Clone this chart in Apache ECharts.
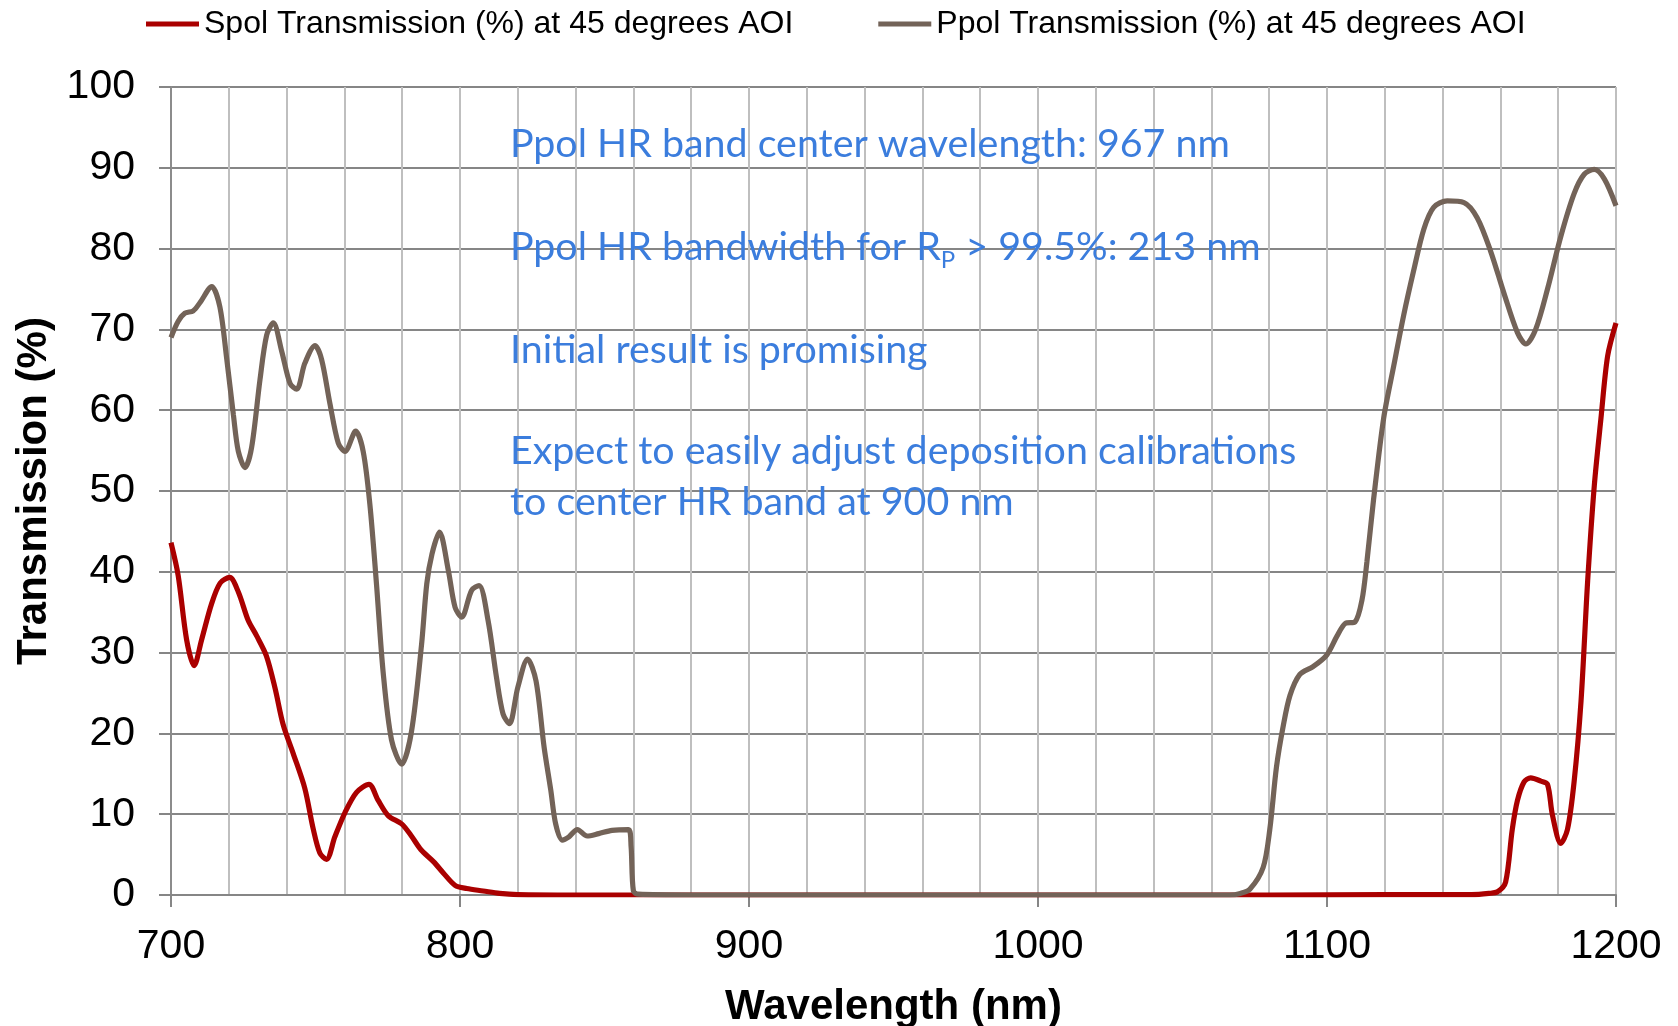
<!DOCTYPE html>
<html>
<head>
<meta charset="utf-8">
<script src="https://cdn.jsdelivr.net/npm/echarts@6/dist/echarts.min.js"></script>
<style>
html,body{margin:0;padding:0;background:#fff;}
#chart{width:1678px;height:1026px;}
</style>
</head>
<body>
<div id="chart"></div>
<script>
// ---- data ----
const seriesNames = ['Spol Transmission (%) at 45 degrees AOI', 'Ppol Transmission (%) at 45 degrees AOI'];

const spolWl = [700, 702.5, 705.4, 708, 710.6, 714, 717, 720.3, 723.3, 726.7, 729.6, 733, 736, 738.8, 742.3, 746.3, 749.2, 751.5, 753.8, 756.7, 760.2, 764.2, 768.5, 771.7, 775.2, 779.8, 783, 786.5, 790.9, 794.3, 798.3, 802.3, 808, 813.7, 820, 840, 880, 920, 960, 1000, 1040, 1080, 1120, 1150, 1156, 1159, 1161.8, 1164.1, 1165.9, 1168.2, 1170.5, 1174, 1176.3, 1178, 1180.9, 1183.2, 1185.5, 1187.9, 1190.2, 1192.5, 1194.8, 1197.1, 1200];
const spolT = [43.6, 39.5, 31.6, 28.4, 31.6, 36, 38.6, 39.3, 37.5, 34, 32.1, 29.6, 25.6, 21.1, 17.5, 13.2, 8.2, 5.2, 4.4, 7.2, 10.2, 12.7, 13.7, 11.7, 9.8, 8.8, 7.4, 5.6, 4.1, 2.7, 1.2, 0.8, 0.5, 0.2, 0.05, 0, 0, 0, 0, 0, 0, 0, 0.05, 0.05, 0.2, 0.4, 1.6, 8.1, 11.7, 14, 14.5, 14.1, 13.7, 9.9, 6.4, 8.1, 14, 24, 38.9, 50.7, 59, 66.7, 70.8];

const ppolWl = [700, 702.5, 704.8, 707.7, 710, 714.1, 716.9, 719.3, 721.6, 723.3, 725.6, 727.9, 730.8, 733.1, 735.4, 738.3, 741.2, 743.5, 746.3, 749.8, 752.1, 755, 757.9, 760.2, 763.9, 766.5, 768.8, 771.1, 773.4, 776.3, 779.8, 783.2, 786.7, 788.5, 790.3, 792.9, 796, 798.3, 800.6, 804, 806.6, 809.7, 812.6, 814.9, 817.1, 820, 823.4, 826.3, 829.1, 831.4, 833.1, 835.4, 837.7, 840.6, 844, 848, 852.6, 858.3, 859.2, 860, 861.7, 880, 920, 960, 1000, 1040, 1066.3, 1070, 1073.3, 1077.9, 1080.2, 1082.5, 1084.9, 1087.2, 1090.6, 1095.3, 1099.9, 1103.4, 1106.3, 1109.7, 1112.1, 1113.8, 1116.1, 1119.6, 1123.1, 1126.5, 1130, 1133.5, 1136.9, 1141.6, 1147.4, 1152, 1156.6, 1161.3, 1165.9, 1168.8, 1172.2, 1176.3, 1180.9, 1185.5, 1189, 1192.5, 1196, 1200];
const ppolT = [69, 71, 72, 72.3, 73.3, 75.3, 72.8, 66.3, 59.4, 54.9, 52.9, 55.4, 63.8, 69.3, 70.8, 67.3, 63.3, 62.6, 65.8, 68, 66.3, 60.8, 55.9, 54.9, 57.4, 54.9, 48.4, 38.5, 27.6, 19.2, 16.2, 20.2, 31, 38.5, 42.2, 44.9, 40.1, 35.6, 34.4, 37.7, 38.3, 34, 27, 22.4, 21.2, 25.7, 29.2, 26.5, 18.3, 13, 8.8, 6.8, 7.2, 8.1, 7.3, 7.6, 8, 8.1, 6, 0.5, 0.1, 0, 0, 0, 0, 0, 0, 0.2, 0.7, 3.4, 8.1, 15.8, 21, 24.7, 27.3, 28.3, 29.7, 32, 33.6, 33.8, 36.5, 41.2, 48.9, 59, 65.5, 71.7, 77.3, 82.4, 85.1, 85.9, 85.7, 83.8, 79.7, 74.4, 69.6, 68.2, 70, 75, 81.5, 86.8, 89.2, 89.8, 88.6, 85.3];

const xTickMin = 700, xTickMax = 1200, xTickStep = 100;
const yTickMin = 0, yTickMax = 100, yTickStep = 10;

const noteLines = [
  '{a|Ppol HR band center wavelength: 967 nm}',
  '{a|Ppol HR bandwidth for R}{s|P}{a| > 99.5%: 213 nm}',
  '{a|Initial result is promising}',
  '{a|Expect to easily adjust deposition calibrations}',
  '{a|to center HR band at 900 nm}'
];
const noteY = [144, 247, 350, 451, 502];

// ---- chart ----
const zip = (xs, ys) => xs.map((x, i) => [x, ys[i]]);
const FONT = '"Liberation Sans", Arial, sans-serif';
const NOTE_FONT = 'Lato, "Open Sans", sans-serif';
const noteColor = '#3b7ddd';

const chart = echarts.init(document.getElementById('chart'), null, {renderer: 'canvas'});

const graphics = noteLines.map((t, i) => ({
  type: 'text',
  x: 510,
  y: noteY[i],
  z: 100,
  style: {
    text: t,
    verticalAlign: 'middle',
    align: 'left',
    rich: {
      a: {fontFamily: NOTE_FONT, fontSize: 39.4, fill: noteColor, color: noteColor, lineHeight: 50, verticalAlign: 'middle'},
      s: {fontFamily: NOTE_FONT, fontSize: 24, fill: noteColor, color: noteColor, lineHeight: 24, verticalAlign: 'bottom'}
    }
  }
}));

chart.setOption({
  animation: false,
  backgroundColor: '#ffffff',
  textStyle: {fontFamily: FONT},
  legend: {
    left: 146,
    top: 8,
    padding: 0,
    itemWidth: 53,
    itemHeight: 5,
    itemGap: 85,
    icon: 'rect',
    textStyle: {fontFamily: FONT, fontSize: 32, color: '#000'},
    data: seriesNames
  },
  grid: {left: 171, right: 62, top: 87, bottom: 131, containLabel: false, outerBoundsMode: 'none'},
  xAxis: {
    type: 'value',
    min: xTickMin, max: xTickMax, interval: xTickStep,
    name: 'Wavelength (nm)',
    nameLocation: 'middle',
    nameGap: 91,
    nameTextStyle: {fontFamily: FONT, fontSize: 42, fontWeight: 'bold', color: '#000'},
    axisLine: {show: true, lineStyle: {color: '#868686', width: 2}},
    axisTick: {show: true, length: 12, lineStyle: {color: '#868686', width: 2}},
    axisLabel: {fontFamily: FONT, fontSize: 41, color: '#000', margin: 31, formatter: v => String(v)},
    splitLine: {show: true, lineStyle: {color: '#bfbfbf', width: 2}},
    minorTick: {show: false, splitNumber: 5},
    minorSplitLine: {show: true, lineStyle: {color: '#bfbfbf', width: 2}}
  },
  yAxis: {
    type: 'value',
    min: yTickMin, max: yTickMax, interval: yTickStep,
    name: 'Transmission (%)',
    nameLocation: 'middle',
    nameGap: 116,
    nameRotate: 90,
    nameTextStyle: {fontFamily: FONT, fontSize: 42, fontWeight: 'bold', color: '#000'},
    axisLine: {show: true, lineStyle: {color: '#8c8c8c', width: 2}},
    axisTick: {show: true, length: 12, lineStyle: {color: '#868686', width: 2}},
    axisLabel: {fontFamily: FONT, fontSize: 41, color: '#000', margin: 36},
    splitLine: {show: true, lineStyle: {color: '#868686', width: 2}}
  },
  graphic: graphics,
  series: [
    {
      name: seriesNames[0],
      type: 'line',
      data: zip(spolWl, spolT),
      showSymbol: false,
      smooth: 0.3,
      color: '#aa0000',
      lineStyle: {color: '#aa0000', width: 5.2},
      z: 3
    },
    {
      name: seriesNames[1],
      type: 'line',
      data: zip(ppolWl, ppolT),
      showSymbol: false,
      smooth: 0.3,
      color: '#736358',
      lineStyle: {color: '#736358', width: 5.2},
      z: 4
    }
  ]
});
</script>
</body>
</html>
